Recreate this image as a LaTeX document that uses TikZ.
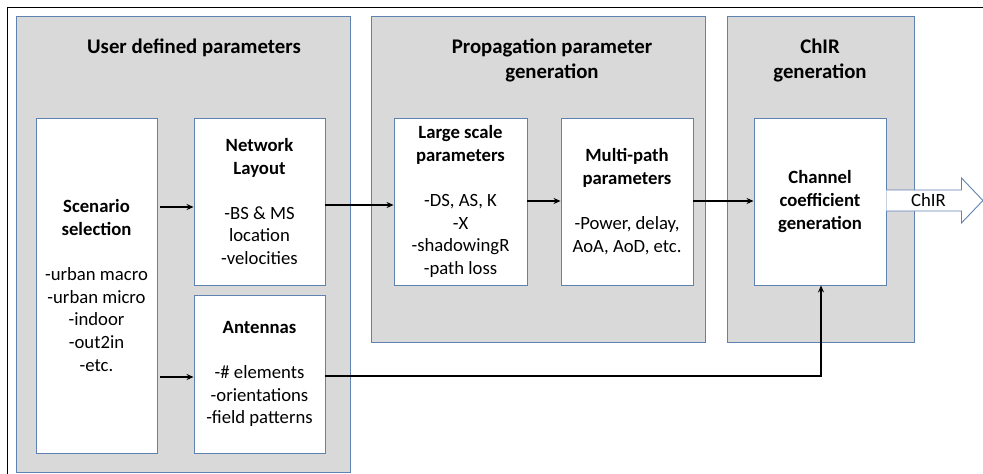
\documentclass[tikz,border=0pt]{standalone}
\usepackage{fontspec}
\setmainfont{Carlito}
\usetikzlibrary{arrows.meta,calc}
\definecolor{panelfill}{RGB}{217,217,217}
\definecolor{edgeblue}{RGB}{96,130,176}
\tikzset{
  panel/.style={draw=edgeblue, fill=panelfill, line width=0.9pt, inner sep=0pt},
  box/.style={draw=edgeblue, fill=white, line width=0.9pt, inner sep=0pt, align=center,
    font=\fontsize{18.7}{22.6}\selectfont},
  ptitle/.style={align=center, font=\fontsize{20.8}{24.5}\selectfont\bfseries, inner sep=0pt},
  conn/.style={line width=1.8pt, -{Stealth[length=7pt,width=6pt]}},
  chirarrow/.style={draw=edgeblue, fill=white, line width=0.9pt, line join=miter},
}
\begin{document}
\begin{tikzpicture}[x=1pt,y=-1pt]
\useasboundingbox (0,0) rectangle (983,474);
% outer frame (left and top lines)
\draw[line width=1pt] (7,474) -- (7,7) -- (983,7);
% panels
\node[panel, minimum width=333.3pt, minimum height=456pt] (p1) at (183.3,244) {};
\node[panel, minimum width=334pt, minimum height=326pt] (p2) at (538,179) {};
\node[panel, minimum width=187pt, minimum height=326pt] (p3) at (820.5,179) {};
% panel titles
\node[ptitle] (t1) at (194,48) {User defined parameters};
\node[ptitle] (t2) at (552,60.5) {Propagation parameter\\generation};
\node[ptitle] (t3) at (820,60.5) {ChIR\\generation};
% boxes
\node[box, minimum width=121pt, minimum height=335pt] (scen) at (96.5,285.5)
  {\textbf{Scenario}\\\textbf{selection}\\[22.6pt]-urban macro\\-urban micro\\-indoor\\-out2in\\-etc.};
\node[box, minimum width=131pt, minimum height=167pt] (net) at (259.5,201.5)
  {\textbf{Network}\\\textbf{Layout}\\[22.6pt]-BS \& MS\\location\\-velocities};
\node[box, minimum width=131pt, minimum height=158pt] (ant) at (259.5,374)
  {\textbf{Antennas}\\[22.6pt]-\# elements\\-orientations\\-field patterns};
\node[box, minimum width=133pt, minimum height=167pt] (large) at (460.5,201.5)
  {\textbf{Large scale}\\\textbf{parameters}\\[22.6pt]-DS, AS, K\\-X\\-shadowingR\\-path loss};
\node[box, minimum width=132pt, minimum height=167pt] (multi) at (627,201.5)
  {\textbf{Multi-path}\\\textbf{parameters}\\[22.6pt]-Power, delay,\\AoA, AoD, etc.};
\node[box, minimum width=132pt, minimum height=167pt] (chan) at (820,201.5)
  {\textbf{Channel}\\\textbf{coefficient}\\\textbf{generation}};
% connectors
\draw[conn, shorten <=3pt] (scen.east |- 0,207) -- (net.west |- 0,207);
\draw[conn, shorten <=3pt] (scen.east |- 0,377) -- (ant.west |- 0,377);
\draw[conn] (net.east |- 0,205) -- (large.west |- 0,205);
\draw[conn] (large.east |- 0,201) -- (multi.west |- 0,201);
\draw[conn] (multi.east |- 0,201) -- (chan.west |- 0,201);
\coordinate (bend) at (821,376);
\draw[conn] (ant.east |- bend) -- (bend) -- (bend |- chan.south);
% ChIR output arrow
\coordinate (ao) at ($(chan.east)+(0,-1)$);
\draw[chirarrow] ($(ao)+(0,-10.5)$) -- ++(75,0) -- ++(0,-12) -- ($(ao)+(96.5,0)$)
  -- ($(ao)+(75,22.5)$) -- ++(0,-12) -- ($(ao)+(0,10.5)$);
\node[font=\fontsize{18.7}{22.6}\selectfont, inner sep=0pt] (chir) at ($(ao)+(42,0)$) {ChIR};
\end{tikzpicture}
\end{document}
